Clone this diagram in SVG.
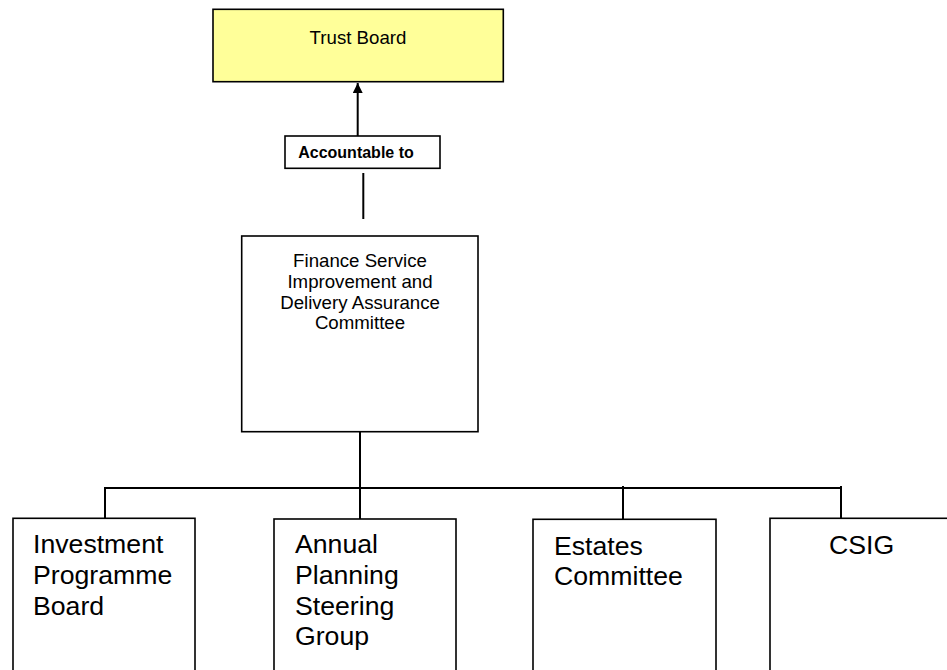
<svg xmlns="http://www.w3.org/2000/svg" width="947" height="670" viewBox="0 0 947 670">
<defs>
<style>
.box{fill:#ffffff;stroke:#000000;stroke-width:1.6}
.t{font-family:"Liberation Sans",Arial,sans-serif;fill:#000000}
.m{font-size:18.67px;text-anchor:middle}
.b{font-size:26.67px}
.ln{stroke:#000000;stroke-width:2;fill:none}
</style>
<marker id="ah" viewBox="0 0 10 10" refX="10" refY="5" markerWidth="5" markerHeight="5" orient="auto" markerUnits="strokeWidth">
<path d="M0,0 L10,5 L0,10 z" fill="#000000"/>
</marker>
</defs>
<rect width="947" height="670" fill="#ffffff"/>
<g id="connectors">
<line class="ln" x1="357.7" y1="136" x2="357.7" y2="83" stroke-width="2.3" marker-end="url(#ah)"/>
<line class="ln" x1="363.3" y1="173" x2="363.3" y2="219" stroke-width="1.3"/>
<line class="ln" x1="360" y1="432" x2="360" y2="519"/>
<line class="ln" x1="105" y1="488" x2="841" y2="488"/>
<line class="ln" x1="105" y1="487" x2="105" y2="518"/>
<line class="ln" x1="623" y1="486" x2="623" y2="519"/>
<line class="ln" x1="841" y1="486" x2="841" y2="518"/>
</g>
<g id="trust-board">
<rect x="213" y="9.3" width="290.3" height="72.4" fill="#ffff99" stroke="#000000" stroke-width="1.6"/>
<text class="t m" x="358" y="43.5">Trust Board</text>
</g>
<g id="accountable-to">
<rect class="box" x="285" y="136" width="155" height="32.3"/>
<text class="t" x="356" y="158" font-size="16" font-weight="bold" text-anchor="middle">Accountable to</text>
</g>
<g id="finance-committee">
<rect class="box" x="241.7" y="236" width="236.3" height="195.7"/>
<text class="t m" x="360" y="267">Finance Service</text>
<text class="t m" x="360" y="287.5">Improvement and</text>
<text class="t m" x="360" y="308.5">Delivery Assurance</text>
<text class="t m" x="360" y="329">Committee</text>
</g>
<g id="investment-programme-board">
<rect class="box" x="13" y="518.3" width="182" height="170"/>
<text class="t b" x="33" y="553">Investment</text>
<text class="t b" x="33" y="584">Programme</text>
<text class="t b" x="33" y="615">Board</text>
</g>
<g id="annual-planning-steering-group">
<rect class="box" x="274" y="519" width="182" height="170"/>
<text class="t b" x="295" y="553">Annual</text>
<text class="t b" x="295" y="584">Planning</text>
<text class="t b" x="295" y="615">Steering</text>
<text class="t b" x="295" y="645">Group</text>
</g>
<g id="estates-committee">
<rect class="box" x="533" y="519.3" width="183" height="170"/>
<text class="t b" x="554" y="555">Estates</text>
<text class="t b" x="554" y="585">Committee</text>
</g>
<g id="csig">
<rect class="box" x="770" y="518.3" width="200" height="170"/>
<text class="t b" x="829" y="554">CSIG</text>
</g>
</svg>
